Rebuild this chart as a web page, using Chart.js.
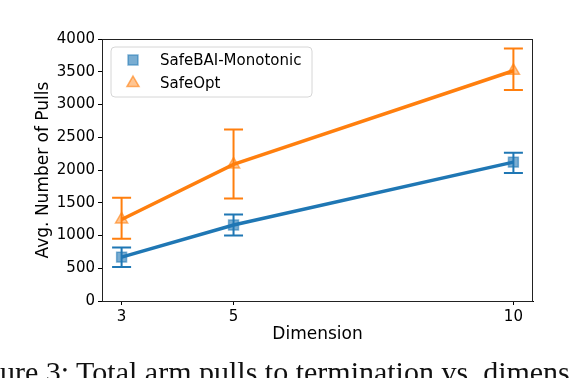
<!DOCTYPE html>
<html>
<head>
<meta charset="utf-8">
<script src="https://cdn.jsdelivr.net/npm/chart.js@4/dist/chart.umd.min.js"></script>
<style>
  html, body { margin: 0; padding: 0; background: #fff; overflow: hidden; }
  #wrap { position: relative; width: 570px; height: 378px; overflow: hidden; }
  #caption {
    position: absolute; left: -40px; top: 356px; white-space: nowrap; line-height: 32px;
    font-family: "Liberation Serif", "DejaVu Serif", serif; font-size: 30px; color: #111;
  }
</style>
</head>
<body>
<div id="wrap">
  <canvas id="chart" width="570" height="378"></canvas>
  <div id="caption">Figure 3: Total arm pulls to termination vs. dimension</div>
</div>
<script>
const dims = [3, 5, 10];
const xTicks = [3, 5, 10];
const seriesNames = ['SafeBAI-Monotonic', 'SafeOpt'];

const monoMean = [670, 1160, 2120];
const monoLow  = [520, 1000, 1955];
const monoHigh = [815, 1320, 2265];

const optMean = [1245, 2085, 3515];
const optLow  = [950, 1565, 3220];
const optHigh = [1575, 2620, 3855];

const blue = '#1f77b4';
const orange = '#ff7f0e';

function pts(xs, ys) { return xs.map((x, i) => ({ x: x, y: ys[i] })); }

const errorBars = {
    id: 'errorBars',
    beforeDatasetsDraw(chart) {
        const ctx = chart.ctx;
        const xs = chart.scales.x, ys = chart.scales.y;
        chart.data.datasets.forEach(ds => {
            ctx.save();
            ctx.strokeStyle = ds.errColor;
            ctx.lineWidth = 2;
            dims.forEach((d, i) => {
                const px = xs.getPixelForValue(d);
                const top = ys.getPixelForValue(ds.high[i]);
                const bot = ys.getPixelForValue(ds.low[i]);
                ctx.beginPath();
                ctx.moveTo(px, top); ctx.lineTo(px, bot);
                ctx.moveTo(px - 9.5, top); ctx.lineTo(px + 9.5, top);
                ctx.moveTo(px - 9.5, bot); ctx.lineTo(px + 9.5, bot);
                ctx.stroke();
            });
            ctx.restore();
        });
    }
};

const frameAndLegend = {
    id: 'frameAndLegend',
    afterDraw(chart) {
        const ctx = chart.ctx;
        const a = chart.chartArea;
        ctx.save();
        ctx.strokeStyle = '#222';
        ctx.lineWidth = 1;
        ctx.strokeRect(a.left + 0.5, a.top + 0.5, a.right - a.left - 1, a.bottom - a.top);

        // legend box
        const lx = 111, ly = 47, lw = 201, lh = 50, r = 4;
        ctx.beginPath();
        ctx.moveTo(lx + r, ly);
        ctx.arcTo(lx + lw, ly, lx + lw, ly + lh, r);
        ctx.arcTo(lx + lw, ly + lh, lx, ly + lh, r);
        ctx.arcTo(lx, ly + lh, lx, ly, r);
        ctx.arcTo(lx, ly, lx + lw, ly, r);
        ctx.closePath();
        ctx.fillStyle = 'rgba(255,255,255,0.8)';
        ctx.fill();
        ctx.strokeStyle = '#d6d6d6';
        ctx.stroke();

        chart.data.datasets.forEach((ds, i) => {
            const y = 60 + i * 23;
            ctx.fillStyle = ds.pointBackgroundColor;
            ctx.strokeStyle = ds.pointBorderColor;
            ctx.lineWidth = 1.5;
            Chart.helpers.drawPoint(ctx, {
                pointStyle: ds.pointStyle, radius: 7, borderWidth: 1.5
            }, 133, y);
            ctx.fillStyle = '#000';
            ctx.font = '15px "DejaVu Sans"';
            ctx.textBaseline = 'middle';
            ctx.textAlign = 'left';
            ctx.fillText(ds.label, 160, y + 1);
        });
        ctx.restore();
    }
};

new Chart(document.getElementById('chart'), {
    type: 'line',
    data: {
        datasets: [
            {
                label: seriesNames[0],
                data: pts(dims, monoMean),
                low: monoLow, high: monoHigh,
                errColor: blue,
                borderColor: blue,
                borderWidth: 3.5,
                pointStyle: 'rect',
                pointRadius: 7,
                pointBackgroundColor: 'rgba(31,119,180,0.6)',
                pointBorderColor: 'rgba(31,119,180,0.55)',
                pointBorderWidth: 1.5
            },
            {
                label: seriesNames[1],
                data: pts(dims, optMean),
                low: optLow, high: optHigh,
                errColor: orange,
                borderColor: orange,
                borderWidth: 3.5,
                pointStyle: 'triangle',
                pointRadius: 7,
                pointBackgroundColor: 'rgba(255,127,14,0.45)',
                pointBorderColor: 'rgba(255,127,14,0.6)',
                pointBorderWidth: 1.5
            }
        ]
    },
    options: {
        responsive: false,
        animation: false,
        layout: { padding: { top: 39, right: 37, left: 0, bottom: 0 } },
        plugins: { legend: { display: false }, tooltip: { enabled: false } },
        scales: {
            x: {
                type: 'linear',
                min: 2.65, max: 10.35,
                afterBuildTicks: s => { s.ticks = xTicks.map(v => ({ value: v })); },
                afterFit: s => { s.height = 77; },
                grid: { drawOnChartArea: false, drawTicks: true, tickLength: 4, tickColor: '#000' },
                border: { color: '#000', width: 1 },
                ticks: { color: '#000', padding: 3, font: { family: 'DejaVu Sans', size: 15 }, maxRotation: 0,
                         callback: v => String(v) },
                title: { display: true, text: 'Dimension', color: '#000',
                         font: { family: 'DejaVu Sans', size: 17 }, padding: { top: 0, bottom: 33 } }
            },
            y: {
                min: 0, max: 4000,
                afterFit: s => { s.width = 102; },
                grid: { drawOnChartArea: false, drawTicks: true, tickLength: 4, tickColor: '#000' },
                border: { color: '#000', width: 1 },
                ticks: { stepSize: 500, color: '#000', padding: 3, font: { family: 'DejaVu Sans', size: 15 },
                         callback: v => String(v) },
                title: { display: true, text: 'Avg. Number of Pulls', color: '#000',
                         font: { family: 'DejaVu Sans', size: 17 }, padding: { top: 33, bottom: 0 } }
            }
        }
    },
    plugins: [errorBars, frameAndLegend]
});
</script>
</body>
</html>
